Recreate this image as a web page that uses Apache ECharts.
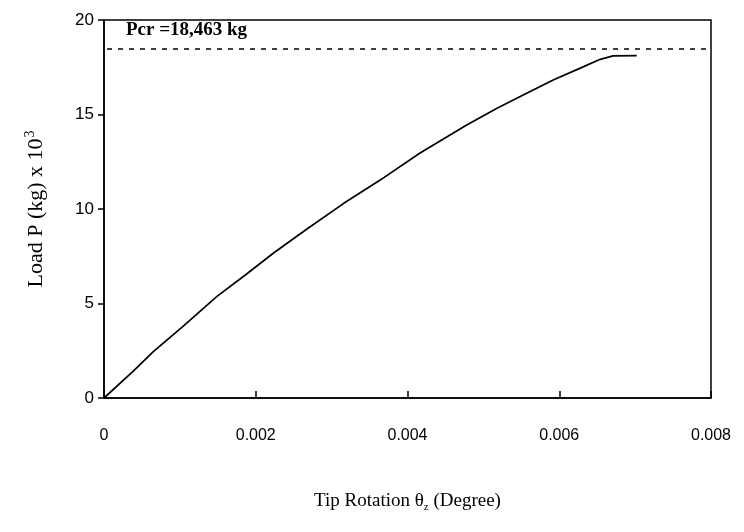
<!DOCTYPE html>
<html>
<head>
<meta charset="utf-8">
<script src="https://cdn.jsdelivr.net/npm/echarts@6/dist/echarts.min.js"></script>
<style>html,body{margin:0;padding:0;background:#fff}#c{width:744px;height:532px}</style>
</head>
<body>
<div id="c"></div>
<script>
const rotation = [0, 0.000386, 0.00065, 0.001045, 0.001485, 0.00188, 0.00223, 0.00267, 0.00316, 0.00364, 0.00416, 0.00478, 0.00518, 0.00557, 0.00592, 0.00627, 0.00654, 0.00671, 0.00702];
const load = [0, 1.42, 2.45, 3.8, 5.36, 6.56, 7.66, 8.93, 10.3, 11.53, 12.95, 14.44, 15.33, 16.12, 16.83, 17.44, 17.92, 18.10, 18.11];
const pcr = 18.463;
const xTicks = [0, 0.002, 0.004, 0.006, 0.008];
const yTicks = [0, 5, 10, 15, 20];

const chart = echarts.init(document.getElementById('c'));
const serif = '"Liberation Serif", "Times New Roman", serif';
const sans = '"Liberation Sans", Arial, sans-serif';
chart.setOption({
  animation: false,
  backgroundColor: '#fff',
  grid: { left: 104, right: 33, top: 20, bottom: 134, show: true, borderColor: '#000', borderWidth: 1.5, backgroundColor: 'transparent' },
  xAxis: {
    type: 'value', min: 0, max: 0.008, interval: 0.002,
    axisLine: { lineStyle: { color: '#000', width: 1.5 } },
    axisTick: { inside: true, length: 7, lineStyle: { color: '#000', width: 1.5 } },
    splitLine: { show: false },
    axisLabel: { margin: 30, color: '#000', fontFamily: sans, fontSize: 16,
      formatter: v => { const t = xTicks.find(k => Math.abs(k - v) < 1e-9); return t === 0 ? '0' : String(t); } },
    name: '{a|Tip Rotation θ}{s|z}{a| (Degree)}',
    nameLocation: 'middle', nameGap: 92,
    nameTextStyle: { rich: { a: { fontFamily: serif, fontSize: 19, color: '#000' }, s: { fontFamily: serif, fontSize: 11, color: '#000', padding: [12, 0, 0, 0] } } }
  },
  yAxis: {
    type: 'value', min: 0, max: 20, interval: 5,
    axisLine: { lineStyle: { color: '#000', width: 1.5 } },
    axisTick: { inside: false, length: 6, lineStyle: { color: '#000', width: 1.5 } },
    splitLine: { show: false },
    axisLabel: { margin: 10, color: '#000', fontFamily: sans, fontSize: 17,
      formatter: v => String(yTicks.find(k => k === v)) },
    name: '{a|Load P (kg) x 10}{s|3}',
    nameLocation: 'middle', nameGap: 55, nameRotate: 90,
    nameTextStyle: { rich: { a: { fontFamily: serif, fontSize: 22, color: '#000' }, s: { fontFamily: serif, fontSize: 14, color: '#000', padding: [0, 0, 12, 1] } } }
  },
  series: [
    {
      type: 'line', data: rotation.map((x, i) => [x, load[i]]), showSymbol: false, smooth: false,
      lineStyle: { color: '#000', width: 1.7 }
    },
    {
      type: 'line', data: [[0.00004, pcr], [0.008, pcr]], showSymbol: false,
      lineStyle: { color: '#000', width: 1.4, type: [5, 6] }
    }
  ],
  graphic: [
    { type: 'text', left: 126, top: 21, style: { text: 'Pcr =18,463 kg', font: 'bold 19px ' + serif, fill: '#000' } }
  ]
});
</script>
</body>
</html>
